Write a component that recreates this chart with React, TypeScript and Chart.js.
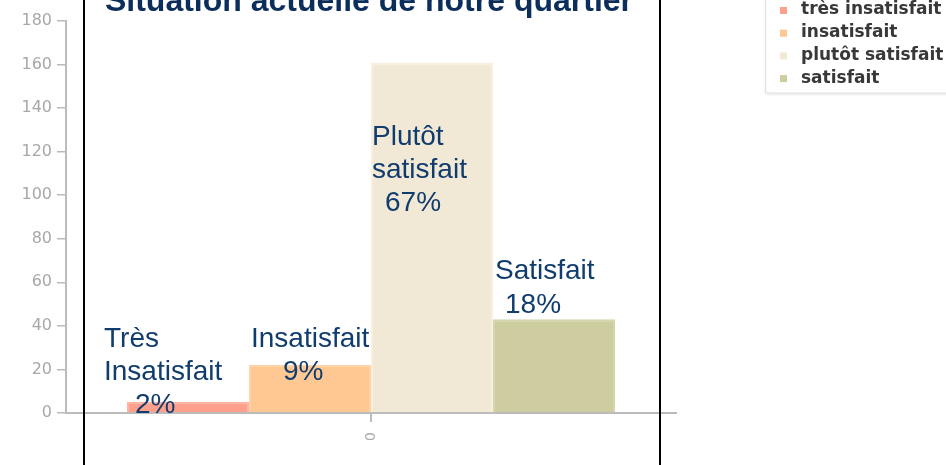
import React, { useEffect, useRef } from "react";
import { Chart, registerables } from "chart.js";

Chart.register(...registerables);

const categories = ["0"];
const seriesLabels = ["très insatisfait", "insatisfait", "plutôt satisfait", "satisfait"];
const seriesValues = [5, 22, 161, 43];
const seriesColors = ["#FFA08C", "#FFC893", "#F1E9D6", "#CDCD9F"];
const seriesBorders = ["#FFB4A4", "#FFD3A8", "#F7F0DE", "#D6D6AE"];
const yTicks = { min: 0, max: 180, step: 20 };
const titleText = "Situation actuelle de notre quartier";
const annotationTexts = [
  ["Très", "Insatisfait", "2%"],
  ["Insatisfait", "9%"],
  ["Plutôt", "satisfait", "67%"],
  ["Satisfait", "18%"],
];

// layout of annotation lines: [dx from bar left, baseline y]
const annotationLayout = [
  [[-23, 347], [-23, 380], [8, 413]],
  [[2, 347], [34, 380]],
  [[1, 145], [1, 178], [14, 211]],
  [[2, 279], [12, 313]],
];

const overlayPlugin = {
  id: "overlay",
  afterDraw(chart: any) {
    const ctx = chart.ctx as CanvasRenderingContext2D;
    ctx.save();
    // title
    ctx.fillStyle = "#0C2E5C";
    ctx.font = "bold 32px 'Liberation Sans', Arial, sans-serif";
    ctx.textAlign = "center";
    ctx.textBaseline = "alphabetic";
    ctx.fillText(titleText, 369, 11);

    // annotations
    ctx.fillStyle = "#113C6E";
    ctx.font = "28px 'Liberation Sans', Arial, sans-serif";
    ctx.textAlign = "left";
    chart.data.datasets.forEach((_: any, i: number) => {
      const meta = chart.getDatasetMeta(i);
      const bar = meta.data[0];
      if (!bar) return;
      const left = bar.x - bar.width / 2;
      const lines = annotationTexts[i] || [];
      lines.forEach((t, j) => {
        const [dx, y] = annotationLayout[i][j];
        ctx.fillText(t, left + dx, y);
      });
    });

    // legend box
    ctx.strokeStyle = "#e2e2e2";
    ctx.lineWidth = 1;
    ctx.shadowColor = "rgba(0,0,0,0.10)";
    ctx.shadowBlur = 3;
    ctx.shadowOffsetY = 1;
    ctx.fillStyle = "#ffffff";
    ctx.beginPath();
    ctx.rect(765.5, -10, 200, 103);
    ctx.fill();
    ctx.stroke();
    ctx.shadowColor = "transparent";
    ctx.shadowBlur = 0;
    ctx.shadowOffsetY = 0;

    ctx.font = "bold 17px 'DejaVu Sans', sans-serif";
    ctx.textBaseline = "middle";
    chart.data.datasets.forEach((ds: any, i: number) => {
      const y = 10 + i * 22.7;
      ctx.fillStyle = ds.backgroundColor;
      ctx.fillRect(780, y - 3, 7, 7);
      ctx.fillStyle = "#383838";
      ctx.fillText(ds.label, 801, y);
    });

    // frame
    ctx.strokeStyle = "#000000";
    ctx.lineWidth = 2;
    ctx.strokeRect(84, -10, 576, 500);
    ctx.restore();
  },
};

export default function App() {
  const ref = useRef<HTMLCanvasElement | null>(null);
  useEffect(() => {
    document.body.style.margin = "0";
    if (!ref.current) return;
    const chart = new Chart(ref.current, {
      type: "bar",
      data: {
        labels: categories,
        datasets: seriesLabels.map((label, i) => ({
          label,
          data: [seriesValues[i]],
          backgroundColor: seriesColors[i],
          borderColor: seriesBorders[i],
          borderWidth: 2,
          borderSkipped: "bottom",
          categoryPercentage: 0.8,
          barPercentage: 1.0,
        })),
      },
      options: {
        responsive: false,
        animation: false,
        layout: { padding: { top: 21, right: 270, left: 0, bottom: 0 } },
        plugins: {
          legend: { display: false },
          title: { display: false },
          tooltip: { enabled: false },
        },
        scales: {
          x: {
            ticks: {
              minRotation: 90,
              maxRotation: 90,
              color: "#aaaaaa",
              font: { family: "'DejaVu Sans', sans-serif", size: 14 },
              padding: 10,
            },
            grid: {
              drawOnChartArea: false,
              offset: false,
              tickLength: 9,
              color: "#bbbbbb",
              lineWidth: 2,
            },
            border: { color: "#bbbbbb", width: 2 },
            afterFit: (scale: any) => {
              scale.height = 52;
            },
          },
          y: {
            min: yTicks.min,
            max: yTicks.max,
            ticks: {
              stepSize: yTicks.step,
              color: "#a8a8a8",
              font: { family: "'DejaVu Sans', sans-serif", size: 16 },
              padding: 5,
            },
            grid: {
              drawOnChartArea: false,
              tickLength: 9,
              color: "#bbbbbb",
              lineWidth: 1.5,
            },
            border: { color: "#bbbbbb", width: 2 },
            afterFit: (scale: any) => {
              scale.width = 66;
            },
          },
        },
      },
      plugins: [overlayPlugin],
    });
    return () => chart.destroy();
  }, []);
  return (
    <div style={{ width: 946, height: 465, position: "relative", background: "#fff" }}>
      <canvas ref={ref} width={946} height={465} style={{ display: "block" }} />
    </div>
  );
}
